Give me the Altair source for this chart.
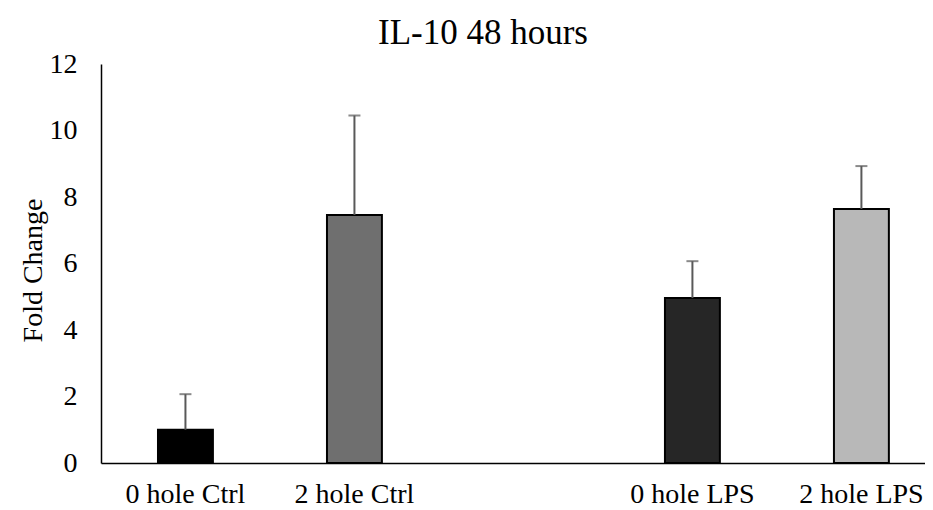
import altair as alt
import pandas as pd

categories = ["0 hole Ctrl", "2 hole Ctrl", " ", "0 hole LPS", "2 hole LPS"]
groups = ["0 hole Ctrl", "2 hole Ctrl", "0 hole LPS", "2 hole LPS"]
fold_change = [1.0, 7.46, 4.96, 7.64]
error_top = [2.07, 10.45, 6.07, 8.93]
fills = ["#000000", "#6f6f6f", "#262626", "#b8b8b8"]
y_ticks = [0, 2, 4, 6, 8, 10, 12]

df = pd.DataFrame({"group": groups, "value": fold_change, "err": error_top, "fill": fills})

FONT = "Liberation Serif"

x = alt.X(
    "group:N",
    sort=categories,
    scale=alt.Scale(domain=categories, paddingInner=0.675, paddingOuter=0.2755, align=0.612),
    axis=alt.Axis(title=None, labelAngle=0, labelFont=FONT, labelFontSize=28, labelColor="#000000",
                  ticks=False, domainColor="#000000", domainWidth=1.5, labelPadding=17),
)
y = alt.Y(
    "value:Q",
    scale=alt.Scale(domain=[0, 12], nice=False),
    axis=alt.Axis(values=y_ticks, grid=False, ticks=False, tickSize=0, labelFont=FONT, labelFontSize=28,
                  labelColor="#000000", labelPadding=24, domainColor="#000000", domainWidth=1.5,
                  title="Fold Change", titleFont=FONT, titleFontSize=28, titleFontWeight="normal",
                  titleColor="#000000", titleAngle=270, titleBaseline="middle", titleAlign="center",
                  titleX=-68, titleY=206),
)

bars = alt.Chart(df).mark_bar(stroke="#000000", strokeWidth=2).encode(
    x=x, y=y, fill=alt.Fill("fill:N", scale=None)
)
stems = alt.Chart(df).mark_rule(color="#595959", strokeWidth=2).encode(
    x=x, y="value:Q", y2="err:Q"
)
caps = alt.Chart(df).mark_tick(color="#595959", thickness=2, size=12).encode(
    x=x, y="err:Q"
)

chart = alt.layer(bars, stems, caps).properties(
    width=824,
    height=399,
    title=alt.Title("IL-10 48 hours"),
    padding={"left": 93, "top": 56, "right": 0, "bottom": 44},
    autosize="none",
).configure_view(stroke=None).configure_title(
    font=FONT, fontSize=35, fontWeight="normal", color="#000000", anchor="middle", dx=-30, dy=15, offset=14
)

chart.save("out.html", embed_options={"renderer": "svg", "actions": False})
